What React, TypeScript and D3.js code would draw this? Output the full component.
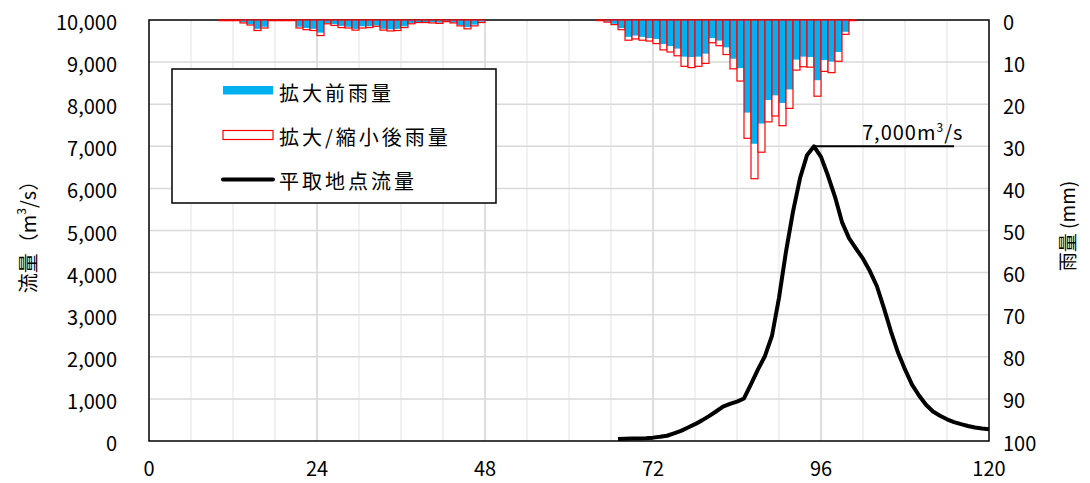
import React from 'react';
import * as d3 from 'd3';

// ---- data ----
const flowHours = [67, 68, 69, 70, 71, 72, 73, 74, 75, 76, 77, 78, 79, 80, 81, 82, 83, 84, 85, 86, 87, 88, 89, 90, 91, 92, 93, 94, 95, 96, 97, 98, 99, 100, 101, 102, 103, 104, 105, 106, 107, 108, 109, 110, 111, 112, 113, 114, 115, 116, 117, 118, 119, 120];
const flowValues = [50, 55, 58, 62, 68, 80, 100, 125, 180, 240, 320, 400, 490, 590, 700, 815, 880, 935, 1010, 1350, 1700, 2020, 2500, 3400, 4500, 5450, 6240, 6790, 7000, 6750, 6300, 5800, 5200, 4820, 4570, 4330, 4030, 3670, 3150, 2600, 2100, 1700, 1340, 1080, 860, 700, 600, 515, 450, 400, 355, 320, 295, 278];

const rainHours = [11, 12, 13, 14, 15, 16, 17, 18, 19, 20, 21, 22, 23, 24, 25, 26, 27, 28, 29, 30, 31, 32, 33, 34, 35, 36, 37, 38, 39, 40, 41, 42, 43, 44, 45, 46, 47, 48,
  65, 66, 67, 68, 69, 70, 71, 72, 73, 74, 75, 76, 77, 78, 79, 80, 81, 82, 83, 84, 85, 86, 87, 88, 89, 90, 91, 92, 93, 94, 95, 96, 97, 98, 99, 100, 101];
const rainBefore = [0.1, 0.1, 0.1, 0.5, 1.0, 2.1, 1.6, 0.1, 0.1, 0.1, 0.1, 1.6, 1.9, 2.1, 3.0, 0.7, 1.0, 1.4, 1.6, 2.1, 1.5, 1.5, 1.3, 2.1, 2.2, 2.1, 1.5, 0.7, 0.5, 0.5, 0.5, 0.6, 0.3, 0.6, 1.2, 1.7, 1.1, 0.4,
  0.1, 0.4, 0.9, 1.9, 4.0, 3.7, 4.0, 4.3, 4.5, 5.7, 6.2, 6.8, 8.7, 8.8, 8.7, 8.0, 4.3, 4.9, 6.5, 9.2, 11.4, 22.0, 29.4, 24.6, 19.0, 17.9, 19.7, 16.5, 9.4, 8.7, 8.8, 14.3, 9.5, 9.9, 7.6, 2.8, 0.1];
const rainAfter = [0.15, 0.15, 0.15, 0.7, 1.2, 2.5, 1.9, 0.15, 0.15, 0.15, 0.15, 1.9, 2.3, 2.5, 3.7, 0.9, 1.3, 1.8, 1.9, 2.4, 1.9, 1.8, 1.5, 2.4, 2.6, 2.5, 1.8, 0.9, 0.6, 0.6, 0.7, 0.8, 0.4, 0.7, 1.4, 2.1, 1.4, 0.6,
  0.15, 0.5, 1.1, 2.3, 4.8, 4.5, 4.8, 5.0, 5.6, 7.1, 7.6, 8.5, 11.0, 11.3, 11.0, 10.3, 5.4, 6.1, 8.2, 11.6, 14.5, 28.1, 37.7, 31.4, 24.2, 22.8, 25.1, 21.0, 11.9, 11.1, 11.2, 18.1, 12.2, 12.5, 9.8, 3.4, 0.15];

const flowTicks = [0, 1000, 2000, 3000, 4000, 5000, 6000, 7000, 8000, 9000, 10000];
const rainTicks = [0, 10, 20, 30, 40, 50, 60, 70, 80, 90, 100];
const hourTicks = [0, 24, 48, 72, 96, 120];
const gridHours = [6, 12, 18, 24, 30, 36, 42, 48, 54, 60, 66, 72, 78, 84, 90, 96, 102, 108, 114];
const legendLabels = ['拡大前雨量', '拡大/縮小後雨量', '平取地点流量'];
const peakValue = 7000;
const peakText = '7,000m';

const FONT = '"Noto Sans CJK JP", "Noto Sans", sans-serif';
const BLUE = '#00b0f0';
const RED = '#ff0000';

export default function App() {
  const W = 1090, H = 483;
  const left = 149, right = 989, top = 20, bottom = 441;
  const x = d3.scaleLinear().domain([0, 120]).range([left, right]);
  const yQ = d3.scaleLinear().domain([0, 10000]).range([bottom, top]);
  const yR = d3.scaleLinear().domain([0, 100]).range([top, bottom]);
  const fmt = d3.format(',');

  const linePath = d3.line<number>()
    .x((_, i) => x(flowHours[i]))
    .y((d) => yQ(d))(flowValues) || '';

  const peakIdx = flowValues.indexOf(d3.max(flowValues) as number);
  const peakX = x(flowHours[peakIdx]);
  const peakY = yQ(peakValue);

  return (
    <svg width={W} height={H} style={{ position: 'absolute', left: 0, top: 0, background: '#fff' }} fontFamily={FONT}>
      <rect x={0} y={0} width={W} height={H} fill="#fff" />
      {/* gridlines */}
      {gridHours.map((h) => (
        <line key={'vg' + h} x1={x(h)} x2={x(h)} y1={top} y2={bottom}
          stroke={h % 24 === 0 ? '#d4d4d4' : '#ececec'} strokeWidth={1.5} />
      ))}
      {flowTicks.filter((v) => v > 0 && v < 10000).map((v) => (
        <line key={'hg' + v} x1={left} x2={right} y1={yQ(v)} y2={yQ(v)} stroke="#d9d9d9" strokeWidth={1.5} />
      ))}
      {/* frame */}
      <rect x={left} y={top} width={right - left} height={bottom - top} fill="none" stroke="#000" strokeWidth={1.5} />

      {/* rain bars */}
      {rainHours.map((h, i) => {
        const x0 = x(h - 1), x1 = x(h);
        const ha = yR(rainAfter[i]) - yR(0);
        const hb = yR(rainBefore[i]) - yR(0);
        return (
          <g key={'bar' + h}>
            <rect x={x0} y={yR(0)} width={x1 - x0} height={ha} fill="#fff" />
            <rect x={x0} y={yR(0)} width={x1 - x0} height={hb} fill={BLUE} />
            <rect x={x0} y={yR(0)} width={x1 - x0} height={ha} fill="none" stroke={RED} strokeWidth={1.2} />
          </g>
        );
      })}

      {/* flow line */}
      <path d={linePath} fill="none" stroke="#000" strokeWidth={4} strokeLinejoin="round" />

      {/* peak annotation */}
      <line x1={peakX} x2={x(115)} y1={peakY} y2={peakY} stroke="#000" strokeWidth={2} />
      <text x={862} y={140} fontSize={20} letterSpacing={1} fill="#000">{peakText}<tspan fontSize={12} dy={-8}>3</tspan><tspan dy={8}>/s</tspan></text>

      {/* left axis labels */}
      {flowTicks.map((v) => (
        <text key={'lt' + v} x={117} y={yQ(v) + 1.5} fontSize={20} textAnchor="end" dominantBaseline="central" fill="#000">{fmt(v)}</text>
      ))}
      {/* right axis labels */}
      {rainTicks.map((v) => (
        <text key={'rt' + v} x={1003} y={yR(v) + 1} fontSize={20} textAnchor="start" dominantBaseline="central" fill="#000">{v}</text>
      ))}
      {/* bottom axis labels */}
      {hourTicks.map((v) => (
        <text key={'bt' + v} x={x(v)} y={467} fontSize={20} textAnchor="middle" dominantBaseline="central" fill="#000">{v}</text>
      ))}

      {/* axis titles */}
      <text transform="translate(27,232) rotate(-90)" fontSize={20} textAnchor="middle" dominantBaseline="central" fill="#000">
        流量（m<tspan fontSize={12} dy={-7}>3</tspan><tspan dy={7}>/s）</tspan>
      </text>
      <text transform="translate(1066,226) rotate(-90)" fontSize={19} textAnchor="middle" dominantBaseline="central" fill="#000">雨量 (mm)</text>

      {/* legend */}
      <rect x={172} y={69} width={324} height={134} fill="#fff" stroke="#000" strokeWidth={1.5} />
      <rect x={223} y={86} width={50} height={8.5} fill={BLUE} />
      <rect x={223} y={130.5} width={50} height={9} fill="#fff" stroke={RED} strokeWidth={1.2} />
      <line x1={223} x2={273} y1={179.5} y2={179.5} stroke="#000" strokeWidth={4} strokeLinecap="round" />
      {legendLabels.map((t, i) => (
        <text key={'lg' + i} x={279} y={92 + i * 44} fontSize={20} letterSpacing={3} dominantBaseline="central" fill="#000">{t}</text>
      ))}
    </svg>
  );
}
